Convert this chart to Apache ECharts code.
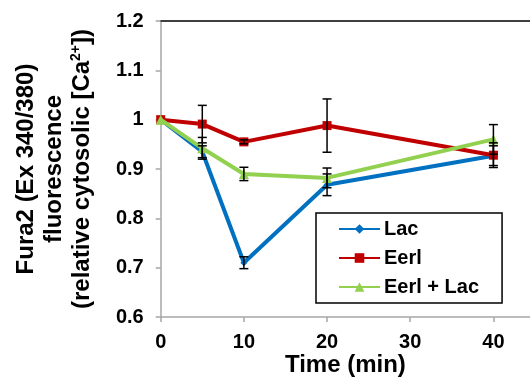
<!DOCTYPE html>
<html><head><meta charset="utf-8">
<script src="https://cdn.jsdelivr.net/npm/echarts@6/dist/echarts.min.js"></script>
<style>html,body{margin:0;padding:0;background:#fff}#c{width:530px;height:379px}</style>
</head><body><div id="c"></div>
<script>
const times = [0, 5, 10, 20, 40];
const seriesNames = ['Lac', 'Eerl', 'Eerl + Lac'];
const lacVals = [1.0, 0.935, 0.710, 0.868, 0.927];
const lacErr = [0, 0.012, 0.012, 0.022, 0.02];
const eerlVals = [1.0, 0.991, 0.955, 0.988, 0.928];
const eerlErr = [0, 0.038, 0.004, 0.054, 0.025];
const comboVals = [1.0, 0.942, 0.890, 0.882, 0.960];
const comboErr = [0, 0.022, 0.0135, 0.020, 0.030];
const xTicks = [0, 10, 20, 30, 40];
const yTicks = [0.6, 0.7, 0.8, 0.9, 1.0, 1.1, 1.2];

const colors = ['#0070C0', '#C00000', '#92D050'];
const symbols = ['diamond', 'rect', 'triangle'];
const symSizes = [7, 9, 10];
const allVals = [lacVals, eerlVals, comboVals];
const allErr = [lacErr, eerlErr, comboErr];

const chart = echarts.init(document.getElementById('c'));
const font = 'Liberation Sans, Arial, sans-serif';

const lineSeries = seriesNames.map((n, i) => ({
  name: n, type: 'line', data: times.map((t, k) => [t, allVals[i][k]]),
  lineStyle: {color: colors[i], width: 4},
  itemStyle: {color: colors[i]},
  symbol: symbols[i], symbolSize: symSizes[i], showSymbol: true,
  z: 2 + i, animation: false
}));

const errData = [];
allVals.forEach((vals, i) => vals.forEach((v, k) => {
  if (allErr[i][k] > 0) errData.push([times[k], v - allErr[i][k], v + allErr[i][k]]);
}));

const errSeries = {
  type: 'custom', data: errData, z: 10, animation: false, silent: true,
  renderItem: function (params, api) {
    const lo = api.coord([api.value(0), api.value(1)]);
    const hi = api.coord([api.value(0), api.value(2)]);
    const w = 4.5;
    const st = {stroke: '#000', lineWidth: 1.5};
    return {type: 'group', children: [
      {type: 'line', shape: {x1: lo[0], y1: lo[1], x2: hi[0], y2: hi[1]}, style: st},
      {type: 'line', shape: {x1: lo[0] - w, y1: lo[1], x2: lo[0] + w, y2: lo[1]}, style: st},
      {type: 'line', shape: {x1: hi[0] - w, y1: hi[1], x2: hi[0] + w, y2: hi[1]}, style: st}
    ]};
  }
};

chart.setOption({
  animation: false,
  grid: {left: 160.7, right: 0, top: 21, bottom: 62, containLabel: false, outerBoundsMode: 'none'},
  legend: {
    orient: 'vertical', left: 316, top: 213, data: seriesNames,
    itemWidth: 41, itemHeight: 12, itemGap: 9,
    padding: [6, 23, 6, 22], borderColor: '#000', borderWidth: 1.5,
    backgroundColor: '#fff',
    textStyle: {fontFamily: font, fontWeight: 'bold', fontSize: 20, color: '#000', lineHeight: 20, padding: [0, 0, 0, -1]}
  },
  xAxis: [{
    type: 'value', min: 0, max: 44.4, interval: 10,
    name: 'Time (min)', nameLocation: 'middle', nameGap: 36, nameMoveOverlap: false,
    nameTextStyle: {fontFamily: font, fontWeight: 'bold', fontSize: 24, color: '#000'},
    axisLine: {show: true, lineStyle: {color: '#A6A6A6', width: 1.5}},
    axisTick: {show: true, length: 5, lineStyle: {color: '#A6A6A6', width: 1.5}, customValues: xTicks},
    axisLabel: {fontFamily: font, fontWeight: 'bold', fontSize: 20, color: '#000', margin: 15, customValues: xTicks},
    splitLine: {show: false}
  }, {
    type: 'value', position: 'top', min: 0, max: 44.4,
    axisLine: {show: true, lineStyle: {color: '#404040', width: 2}},
    axisTick: {show: false}, axisLabel: {show: false}, splitLine: {show: false}
  }],
  yAxis: {
    type: 'value', min: 0.6, max: 1.2, interval: 0.1,
    name: '{a|Fura2 (Ex 340/380)}\n{a|fluorescence}\n{a|(relative cytosolic [Ca}{s|2+}{a|])}',
    nameLocation: 'middle', nameRotate: 90, nameGap: 106, nameMoveOverlap: false,
    nameTextStyle: {
      verticalAlign: 'middle', align: 'center',
      rich: {
        a: {fontFamily: font, fontWeight: 'bold', fontSize: 24, color: '#000', lineHeight: 28},
        s: {fontFamily: font, fontWeight: 'bold', fontSize: 14, color: '#000', lineHeight: 28, verticalAlign: 'top', padding: [0, 0, 8, 0]}
      }
    },
    axisLine: {show: true, lineStyle: {color: '#A6A6A6', width: 1.5}},
    axisTick: {show: true, length: 5, lineStyle: {color: '#A6A6A6', width: 1.5}},
    axisLabel: {fontFamily: font, fontWeight: 'bold', fontSize: 20, color: '#000', margin: 17,
      formatter: v => String(+v.toFixed(1))},
    splitLine: {show: false}
  },
  series: [...lineSeries, errSeries]
});
</script></body></html>
